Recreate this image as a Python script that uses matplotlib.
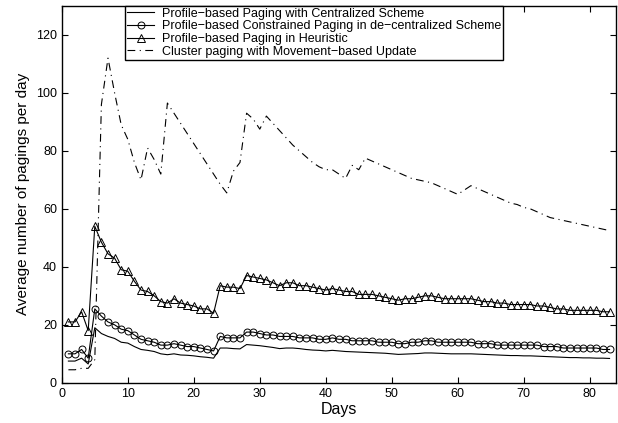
import matplotlib
matplotlib.use("Agg")
import matplotlib.pyplot as plt
import numpy as np

days = list(range(1, 84))

centralized = [7.5, 7.5, 8.5, 6.5, 19, 17, 16, 15.3, 14, 13.7, 12.5, 11.5, 11.2, 10.8, 10, 9.7, 10, 9.6, 9.5, 9.3,
               9, 8.8, 8.5, 12, 12, 11.8, 11.7, 13.2, 13, 12.8, 12.5, 12.2, 11.8, 12, 12, 11.8, 11.5, 11.3, 11.2, 11,
               11.2, 11, 10.8, 10.7, 10.6, 10.5, 10.4, 10.3, 10.2, 10, 9.8, 9.9, 10, 10.1, 10.3, 10.3, 10.2, 10.1, 10, 10,
               10, 10, 9.9, 9.8, 9.7, 9.6, 9.5, 9.4, 9.4, 9.3, 9.3, 9.2, 9.1, 9, 8.9, 8.8, 8.7, 8.7, 8.6, 8.6,
               8.5, 8.5, 8.4]

constrained = [10, 10, 11.5, 8.5, 25.5, 23, 21, 20, 18.5, 18, 16.5, 15, 14.5, 14, 13, 13, 13.5, 13, 12.5, 12.5,
               12, 11.5, 11, 16, 15.5, 15.5, 15.5, 17.5, 17.5, 17, 16.5, 16.5, 16, 16, 16, 15.5, 15.5, 15.5, 15, 15,
               15.5, 15, 15, 14.5, 14.5, 14.5, 14.5, 14, 14, 14, 13.5, 13.5, 14, 14, 14.5, 14.5, 14, 14, 14, 14,
               14, 14, 13.5, 13.5, 13.5, 13, 13, 13, 13, 13, 13, 13, 12.5, 12.5, 12.5, 12, 12, 12, 12, 12,
               12, 11.5, 11.5]

heuristic = [21, 21, 24.5, 18, 54, 48.5, 44.5, 43, 39, 38.5, 35, 32, 31.5, 30, 28, 27.5, 29, 27.5, 27, 26.5,
             25.5, 25.5, 24, 33.5, 33, 33, 32.5, 37, 36.5, 36, 35.5, 34.5, 33.5, 34.5, 34.5, 33.5, 33.5, 33, 32.5, 32,
             32.5, 32, 31.5, 31.5, 30.5, 30.5, 30.5, 30, 29.5, 29, 28.5, 29, 29, 29.5, 30, 30, 29.5, 29, 29, 29,
             29, 29, 28.5, 28, 28, 27.5, 27.5, 27, 27, 27, 27, 26.5, 26.5, 26, 25.5, 25.5, 25, 25, 25, 25,
             25, 24.5, 24.5]

cluster = [4.5, 4.5, 5, 5, 8, 96, 112, 100, 89, 84, 76, 70, 81, 77, 72, 96.5, 93, 89.5, 86, 82.5,
           79, 75.5, 72, 68.5, 65.5, 73, 76, 93, 91, 87.5, 92, 89.5, 87, 84.5, 82, 80, 78, 76, 74.5, 73.5,
           73.5, 72, 70.5, 75, 73.5, 77.5, 76.5, 75.5, 74.5, 73.5, 72.5, 71.5, 70.5, 70, 69.5, 69, 68, 67, 66, 65,
           66.5, 68, 67, 66, 65, 64, 63, 62, 61.5, 60.5, 60, 59, 58, 57, 56.5, 56, 55.5, 55, 54.5, 54,
           53.5, 53, 52.5]

labels = ["Profile\u2212based Paging with Centralized Scheme",
          "Profile\u2212based Constrained Paging in de\u2212centralized Scheme",
          "Profile\u2212based Paging in Heuristic",
          "Cluster paging with Movement\u2212based Update"]

plt.rcParams['font.family'] = ['Liberation Sans', 'DejaVu Sans']

fig = plt.figure(figsize=(6.18, 4.23), dpi=100)
ax = fig.add_axes([0.100, 0.095, 0.897, 0.891])

lw = 0.8
ax.plot(days, centralized, color='black', lw=lw, label=labels[0])
ax.plot(days, constrained, color='black', lw=lw, marker='o', markersize=5,
        markerfacecolor='none', markeredgewidth=0.7, label=labels[1])
ax.plot(days, heuristic, color='black', lw=lw, marker='^', markersize=6,
        markerfacecolor='none', markeredgewidth=0.7, label=labels[2])
ax.plot(days, cluster, color='black', lw=lw, linestyle=(0, (7, 4, 1, 4)), label=labels[3])

ax.set_xlim(0, 84)
ax.set_ylim(0, 130)
ax.set_xticks(range(0, 81, 10))
ax.set_yticks(range(0, 121, 20))
ax.tick_params(direction='in', top=True, right=True, labelsize=9, length=4, width=0.8)
for s in ax.spines.values():
    s.set_linewidth(1.0)

ax.set_xlabel("Days", fontsize=11.5, labelpad=2)
ax.set_ylabel("Average number of pagings per day", fontsize=11, labelpad=4)

leg = ax.legend(loc='upper left', bbox_to_anchor=(0.114, 1.0), fontsize=9,
                frameon=True, fancybox=False, edgecolor='black', framealpha=1,
                borderpad=0.15, labelspacing=0.05, handlelength=2.2, handletextpad=0.6,
                borderaxespad=0.0)
leg.get_frame().set_linewidth(1.0)

fig.savefig("out.png", dpi=100)
